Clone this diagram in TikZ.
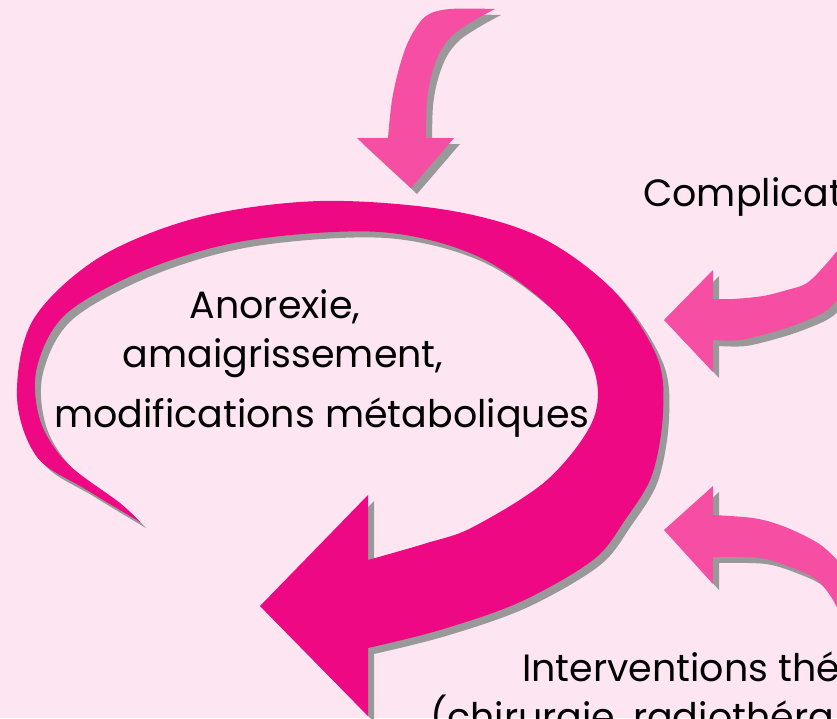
\documentclass[tikz,border=0pt]{standalone}
\usepackage{fontspec}
\setmainfont{Poppins}
\usepackage{xcolor}
\definecolor{bgpink}{RGB}{253,230,242}
\definecolor{curlmagenta}{RGB}{238,8,132}
\definecolor{arrowpink}{RGB}{245,78,162}
\definecolor{shadowgray}{RGB}{153,153,153}

\begin{document}
\begin{tikzpicture}[x=1pt, y=-1pt,
  txt/.style={font=\fontsize{38}{40}\selectfont, text=black, inner sep=0pt},
  curve/.style={smooth, tension=0.55}
]
\useasboundingbox (0,0) rectangle (837,718);
\clip (0,0) rectangle (837,718);
\fill[bgpink] (0,0) rectangle (837,718);

% shadow first, then the colour on top
\foreach \d/\c in {6/shadowgray, 0/curlmagenta} {
  \fill[\c, shift={(\d,\d)}]
    plot[curve] coordinates {(140,522) (87,490) (37,457) (17,397) (33,320) (100,257) (200,217) (320,201) (447,210) (540,237) (613,290) (657,357) (663,413) (652,475) (625,520) (593,560) (520,602) (440,630) (368,648)}
    -- (368,716) -- (260,606) -- (368,495) -- (368,560)
    -- plot[curve] coordinates {(368,560) (427,543) (473,527) (547,480) (593,420) (593,367) (553,310) (477,256) (380,232) (250,240) (150,268) (67,313) (37,367) (40,420) (67,463) (120,503) (140,522)}
    -- cycle;
}
\foreach \d/\c in {6/shadowgray, 0/arrowpink} {
  % top arrow
  \fill[\c, shift={(\d,\d)}]
    plot[curve] coordinates {(495,9) (450,9) (426,16) (410,38) (400,65) (392,100) (388,138)}
    -- (357,138) -- (411,188) -- (454,138) -- (426,138)
    -- plot[curve] coordinates {(426,138) (427,100) (432,73) (441,50) (455,33) (480,17)}
    -- cycle;
  % complications arrow
  \fill[\c, shift={(\d,\d)}]
    (713,299) -- (713,270) -- (664,320) -- (713,372) -- (713,340)
    -- plot[curve] coordinates {(713,340) (740,340) (773,332) (800,323) (827,310) (850,285)}
    -- (865,235)
    -- plot[curve] coordinates {(850,235) (827,263) (807,283) (787,290) (763,296) (733,299) (713,299)}
    -- cycle;
  % interventions arrow
  \fill[\c, shift={(\d,\d)}]
    (713,515) -- (713,486) -- (664,530) -- (713,584) -- (713,557)
    -- plot[curve] coordinates {(713,557) (760,558) (793,568) (817,580) (833,600) (845,625)}
    -- (870,600)
    -- plot[curve] coordinates {(855,580) (827,550) (807,537) (780,525) (753,518) (713,515)}
    -- cycle;
}

\node[txt, anchor=base] (anorexie) at (275,318) {Anorexie,};
\node[txt, anchor=base] (amaigr) at (283,367) {amaigrissement,};
\node[txt, anchor=base] (modif) at (322,427) {modifications métaboliques};
\node[txt, anchor=base west] (complic) at (643,206) {Complicat};
\node[txt, anchor=base west] (interv) at (522,681) {Interventions thér};
\node[txt, anchor=base west] (chirurg) at (430,730) {(chirurgie, radiothéra};
\end{tikzpicture}
\end{document}
